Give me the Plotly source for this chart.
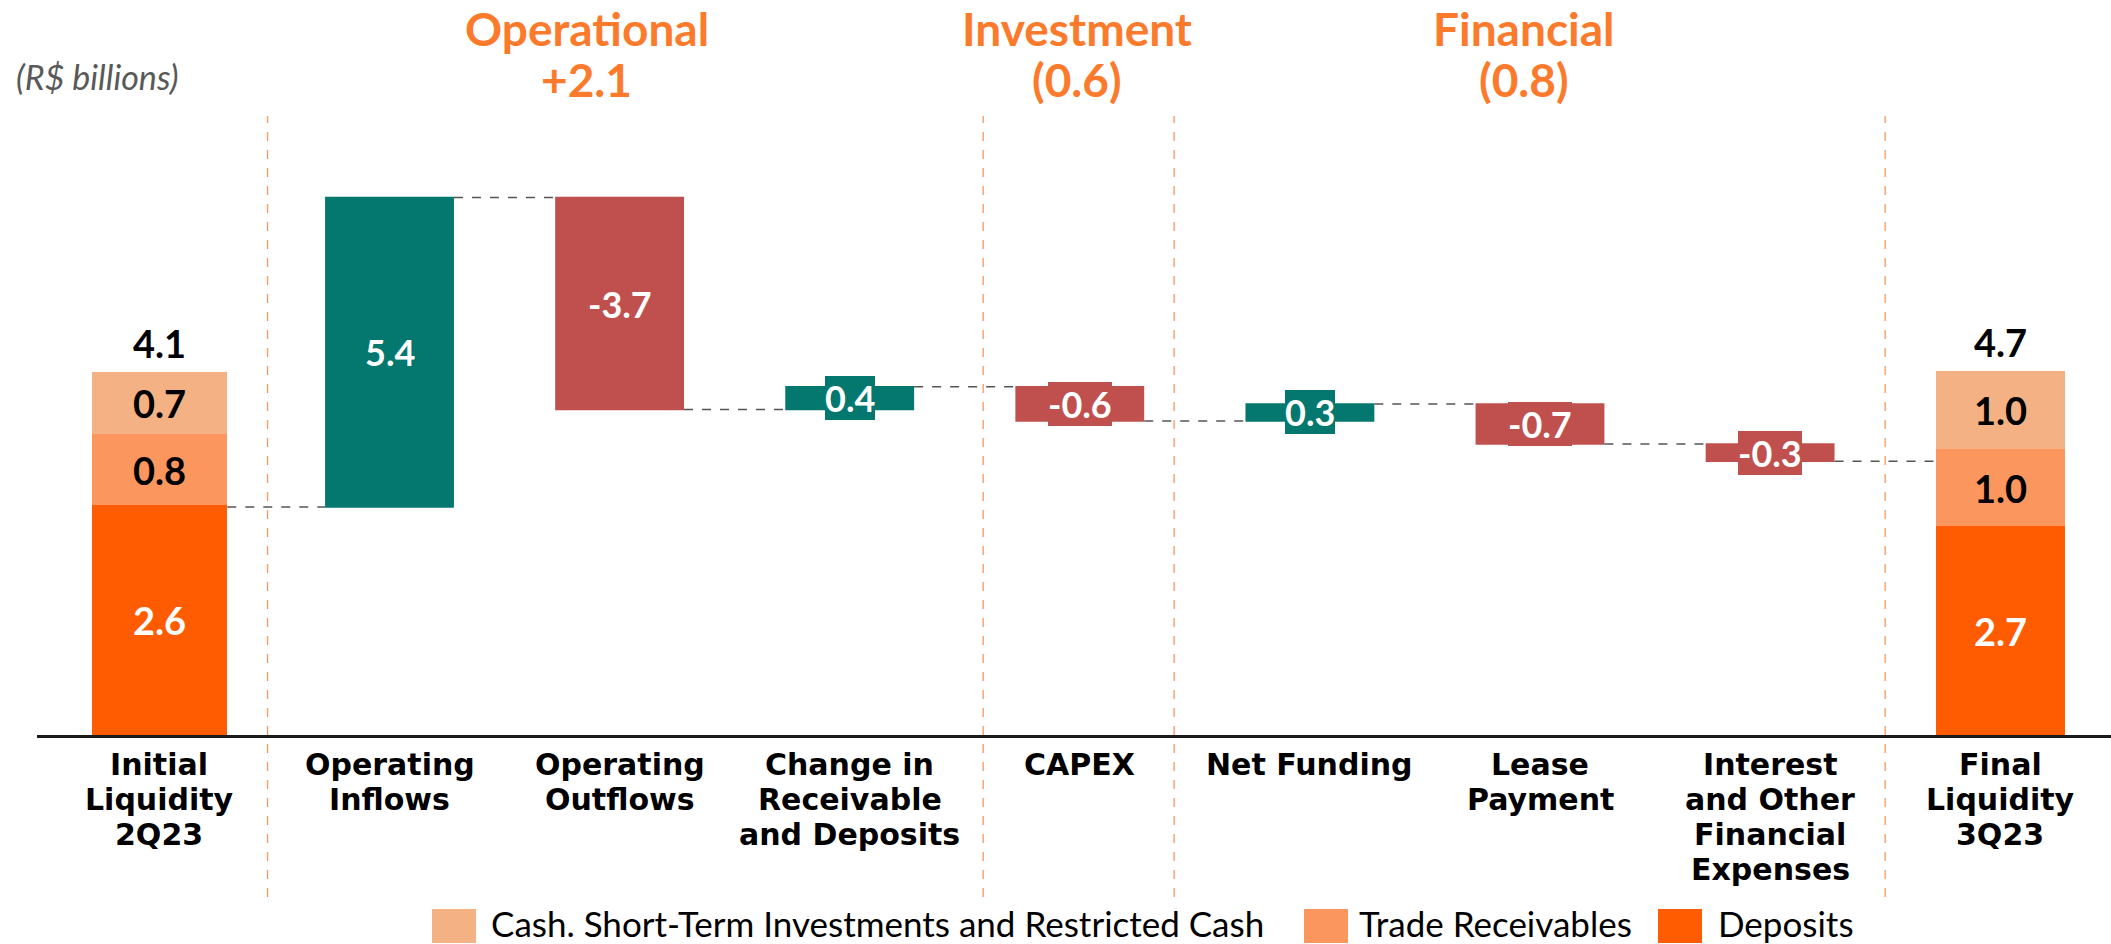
import numpy as np
import plotly.graph_objects as go

# ---------------- data ----------------
categories = [
    "Initial<br>Liquidity<br>2Q23",
    "Operating<br>Inflows",
    "Operating<br>Outflows",
    "Change in<br>Receivable<br>and Deposits",
    "CAPEX",
    "Net Funding",
    "Lease<br>Payment",
    "Interest<br>and Other<br>Financial<br>Expenses",
    "Final<br>Liquidity<br>3Q23",
]
series_names = ["Cash. Short-Term Investments and Restricted Cash", "Trade Receivables", "Deposits"]
deposits = [2.6, 2.7]            # initial, final
trade_receivables = [0.8, 1.0]   # initial, final
cash_sti = [0.7, 1.0]            # initial, final
liquidity_totals = [4.1, 4.7]    # initial, final
flow_values = [5.4, -3.7, 0.4, -0.6, 0.3, -0.7, -0.3]
group_titles = ["Operational", "Investment", "Financial"]
group_values = ["+2.1", "(0.6)", "(0.8)"]
unit_label = "(R$ billions)"

# ---------------- styles ----------------
FONT = "Lato, 'DejaVu Sans', sans-serif"
FONT_CAT = "'DejaVu Sans', Lato, sans-serif"
C_CASH = "#F4B183"
C_TRADE = "#FA965E"
C_DEP = "#FF5B00"
C_UP = "#04776F"
C_DOWN = "#C0504D"
C_TITLE = "#FC7A2B"
C_SEP = "#F9965F"

W, H = 2111, 944
ML, MT, MB, MR = 37, 100, 209, 0
PLOT_H = H - MT - MB           # 635
PLOT_W = W - ML - MR           # 2074
BASE_Y = H - MB                # y of the axis line
LEFT_X = ML


def py(p):
    """pixel y -> paper y"""
    return (BASE_Y - p) / PLOT_H


def px(p):
    """pixel x -> paper x"""
    return (p - LEFT_X) / PLOT_W


fig = go.Figure()

n = len(categories)
x_init, x_final = 0, n - 1
x_flows = list(range(1, n - 1))

seg_colors = [C_DEP, C_TRADE, C_CASH]
seg_text_colors = ["white", "black", "black"]
seg_names = [series_names[2], series_names[1], series_names[0]]
seg_values = [deposits, trade_receivables, cash_sti]

for axis, idx, xpos, width in (("y", 0, x_init, 0.59), ("y3", 1, x_final, 0.56)):
    for vals, col, tcol, name in zip(seg_values, seg_colors, seg_text_colors, seg_names):
        fig.add_trace(go.Bar(
            x=[xpos], y=[vals[idx]], width=[width], yaxis=axis,
            marker=dict(color=col, line=dict(width=0)),
            text=[f"{vals[idx]:.1f}"], textposition="inside", insidetextanchor="middle",
            constraintext="none",
            textfont=dict(family=FONT, size=38, color=tcol, weight="bold"),
            name=name, showlegend=False, hoverinfo="skip",
        ))

# waterfall of flows, starting from the deposits level
start = deposits[0]
fig.add_trace(go.Waterfall(
    x=x_flows, y=flow_values, base=start, measure=["relative"] * len(flow_values),
    width=[0.56] * len(flow_values), yaxis="y2",
    increasing=dict(marker=dict(color=C_UP)),
    decreasing=dict(marker=dict(color=C_DOWN)),
    connector=dict(mode="between", line=dict(color="#555555", width=1.5, dash="dash")),
    showlegend=False, hoverinfo="skip",
))

levels = start + np.cumsum(flow_values)
prev = np.concatenate([[start], levels[:-1]])

# connectors from/to the liquidity bars
fig.add_trace(go.Scatter(x=[x_init + 0.295, x_flows[0] - 0.28], y=[start, start], yaxis="y2",
                         mode="lines", line=dict(color="#555555", width=1.5, dash="dash"),
                         showlegend=False, hoverinfo="skip"))
fig.add_trace(go.Scatter(x=[x_flows[-1] + 0.28, x_final - 0.28], y=[levels[-1], levels[-1]], yaxis="y2",
                         mode="lines", line=dict(color="#555555", width=1.5, dash="dash"),
                         showlegend=False, hoverinfo="skip"))

annotations = []
for xv, v, a, b in zip(x_flows, flow_values, prev, levels):
    annotations.append(dict(
        x=xv, y=(a + b) / 2, xref="x", yref="y2", text=f"{v:.1f}", showarrow=False,
        bgcolor=C_UP if v >= 0 else C_DOWN, borderpad=0, borderwidth=0,
        font=dict(family=FONT, size=36, color="white", weight="bold"),
    ))

for xv, tot, yr in ((x_init, liquidity_totals[0], "y"), (x_final, liquidity_totals[1], "y3")):
    annotations.append(dict(
        x=xv, y=tot, xref="x", yref=yr, text=f"{tot:.1f}", showarrow=False,
        yanchor="bottom", yshift=4,
        font=dict(family=FONT, size=38, color="black", weight="bold"),
    ))

# group headings
group_x = [1.858, 3.988, 5.930]
for gx, t, v in zip(group_x, group_titles, group_values):
    for txt, yc in ((t, 29), (v, 79)):
        annotations.append(dict(
            x=gx, y=py(yc), xref="x", yref="paper", text=txt, showarrow=False,
            yanchor="middle", xanchor="center",
            font=dict(family=FONT, size=46, color=C_TITLE, weight="bold"),
        ))

annotations.append(dict(
    x=px(14), y=py(77), xref="paper", yref="paper", text=f"<i>{unit_label}</i>", showarrow=False,
    xanchor="left", yanchor="middle", font=dict(family=FONT, size=34, color="#595959"),
))

# category labels (one line per annotation, tight line spacing)
for i, cat in enumerate(categories):
    for k, line in enumerate(cat.split("<br>")):
        annotations.append(dict(
            x=i, y=py(764 + 35.2 * k), xref="x", yref="paper", text=line, showarrow=False,
            xanchor="center", yanchor="middle",
            font=dict(family=FONT_CAT, size=30, color="black", weight="bold"),
        ))

# legend
legend_order = [(series_names[0], C_CASH, 432, 489), (series_names[1], C_TRADE, 1304, 1357),
                (series_names[2], C_DEP, 1658, 1716)]
shapes = []
for name, col, sx, tx in legend_order:
    shapes.append(dict(type="rect", xref="paper", yref="paper", x0=px(sx), x1=px(sx + 44),
                       y0=py(943), y1=py(909), fillcolor=col, line=dict(width=0), layer="above"))
    annotations.append(dict(x=px(tx), y=py(923), xref="paper", yref="paper", text=name, showarrow=False,
                            xanchor="left", yanchor="middle",
                            font=dict(family=FONT, size=35, color="black")))

# dashed separators between groups
for sxv in (0.47, 3.58, 4.41, 7.5):
    shapes.append(dict(type="line", xref="x", yref="paper", x0=sxv, x1=sxv, y0=py(897), y1=py(116),
                       line=dict(color=C_SEP, width=1.3, dash="dash")))

ppu = 230.1
x0 = 0 - (159.4 - LEFT_X) / ppu
x1 = x0 + PLOT_W / ppu

fig.update_layout(
    width=W, height=H,
    margin=dict(l=ML, r=MR, t=MT, b=MB, pad=0),
    plot_bgcolor="white", paper_bgcolor="white",
    barmode="stack", bargap=0,
    font=dict(family=FONT),
    showlegend=False,
    xaxis=dict(range=[x0, x1], tickmode="array", tickvals=list(range(n)), ticktext=categories,
               showticklabels=False,
               showgrid=False, zeroline=False, showline=True, linecolor="#1a1a1a", linewidth=2.5,
               ticks="", fixedrange=True),
    yaxis=dict(range=[0, PLOT_H / 88.6], visible=False, fixedrange=True),
    yaxis2=dict(range=[(656 - BASE_Y) / 57.3, (656 - (BASE_Y - PLOT_H)) / 57.3], overlaying="y",
                visible=False, fixedrange=True),
    yaxis3=dict(range=[0, PLOT_H / 77.4], overlaying="y", visible=False, fixedrange=True),
    annotations=annotations,
    shapes=shapes,
)

fig.write_html("out.html", config={"displayModeBar": False},
               post_script="document.body.style.margin='0px';")
